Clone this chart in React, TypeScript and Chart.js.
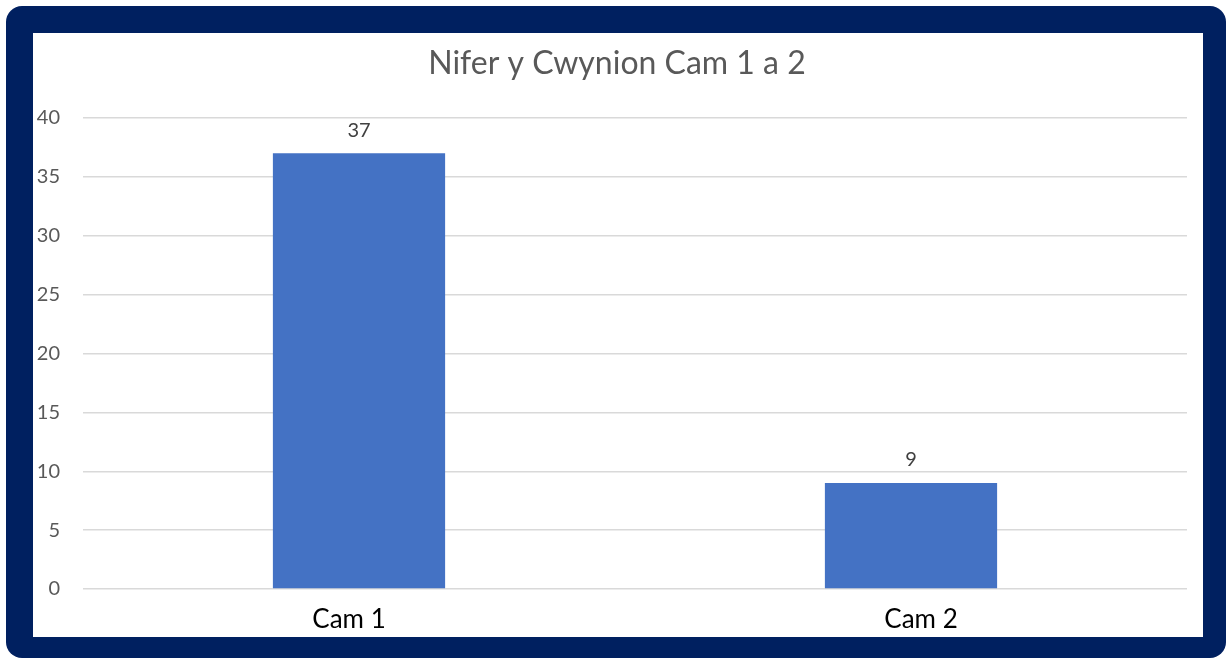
import React, { useEffect, useRef } from "react";
import { Chart, registerables } from "chart.js";

Chart.register(...registerables);

const categories = ["Cam 1", "Cam 2"];
const values = [37, 9];
const yTicks = [0, 5, 10, 15, 20, 25, 30, 35, 40];
const titleText = "Nifer y Cwynion Cam 1 a 2";

const FONT = "Lato, 'Open Sans', sans-serif";
// small horizontal nudge of the category labels, as in the reference
const LABEL_NUDGE = 10;

const overlay = {
  id: "overlay",
  afterDatasetsDraw(chart: any) {
    const ctx = chart.ctx;
    const meta = chart.getDatasetMeta(0);
    const area = chart.chartArea;
    ctx.save();
    // title
    ctx.font = `32px ${FONT}`;
    ctx.fillStyle = "#595959";
    ctx.textAlign = "center";
    ctx.textBaseline = "alphabetic";
    ctx.fillText(titleText, (area.left + area.right) / 2 - 18, 41);
    // data labels
    ctx.font = `20px ${FONT}`;
    ctx.fillStyle = "#404040";
    ctx.textBaseline = "bottom";
    meta.data.forEach((bar: any, i: number) => {
      ctx.fillText(String(values[i]), bar.x, bar.y - 13);
    });
    // category labels
    const xs = chart.scales.x;
    ctx.font = `26px ${FONT}`;
    ctx.fillStyle = "#000000";
    ctx.textBaseline = "middle";
    categories.forEach((c, i) => {
      const x = xs.getPixelForTick(i);
      const n = categories.length > 1 ? (i / (categories.length - 1)) * 2 - 1 : 0;
      ctx.fillText(c, x + n * LABEL_NUDGE, area.bottom + 31);
    });
    ctx.restore();
  },
};

export default function App() {
  const ref = useRef<HTMLCanvasElement | null>(null);
  useEffect(() => {
    if (!ref.current) return;
    const chart = new Chart(ref.current, {
      type: "bar",
      data: {
        labels: categories,
        datasets: [
          {
            data: values,
            backgroundColor: "#4472C4",
            barPercentage: 1,
            categoryPercentage: 0.312,
          },
        ],
      },
      options: {
        responsive: false,
        animation: false,
        layout: { padding: { top: 85, right: 16, bottom: 0, left: 0 } },
        plugins: {
          legend: { display: false },
          tooltip: { enabled: false },
          title: { display: false },
        },
        scales: {
          x: {
            grid: { display: false, drawTicks: false },
            border: { display: false },
            ticks: { display: false },
            afterFit(scale: any) {
              scale.height = 48;
            },
          },
          y: {
            min: 0,
            max: 40,
            afterBuildTicks(scale: any) {
              scale.ticks = yTicks.map((v) => ({ value: v }));
            },
            grid: { color: "#d9d9d9", lineWidth: 1.5, drawTicks: false },
            border: { display: false },
            ticks: {
              color: "#595959",
              font: { family: FONT, size: 20 },
              padding: 23,
            },
            afterFit(scale: any) {
              scale.width = 50;
            },
          },
        },
      },
      plugins: [overlay],
    });
    return () => chart.destroy();
  }, []);

  return (
    <div
      style={{
        position: "absolute",
        left: 0,
        top: 0,
        width: 1229,
        height: 661,
        background: "#ffffff",
      }}
    >
      <div
        style={{
          position: "absolute",
          left: 6,
          top: 6,
          width: 1220,
          height: 652,
          background: "#002060",
          borderRadius: 16,
        }}
      />
      <div
        style={{
          position: "absolute",
          left: 33,
          top: 33,
          width: 1170,
          height: 604,
          background: "#ffffff",
        }}
      >
        <canvas ref={ref} width={1170} height={604} style={{ display: "block" }} />
      </div>
    </div>
  );
}
